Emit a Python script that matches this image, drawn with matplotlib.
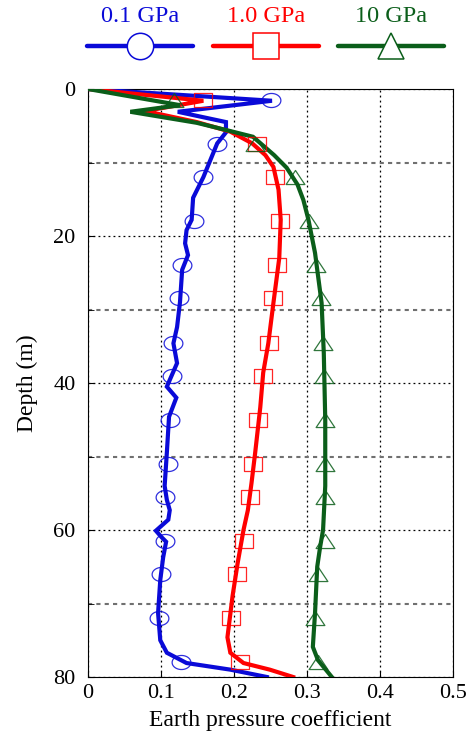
import numpy as np
import matplotlib
matplotlib.use("Agg")
import matplotlib.pyplot as plt
from matplotlib.path import Path
from matplotlib.ticker import MultipleLocator

plt.rcParams['font.family'] = ['Liberation Serif', 'DejaVu Serif']

# series names and colours
labels = ["0.1 GPa", "1.0 GPa", "10 GPa"]
colors = ["#0a0ad8", "#ff0000", "#0b5e1a"]

# line data (depth in m, earth pressure coefficient)
depth_01 = [0, 1.6, 3.1, 4.5, 5.9, 7.4, 12, 14.8, 17.8, 19.2, 21, 22.6, 24.6, 29,
            32.4, 34.6, 37.3, 40.5, 42, 44.6, 49.5, 54, 55.9, 57.3, 58.6, 60.1,
            61, 61.6, 63.7, 66.8, 71.3, 75, 76.7, 78.1, 79, 80]
k_01 = [0, 0.252, 0.123, 0.189, 0.189, 0.177, 0.158, 0.144, 0.142, 0.135, 0.133,
        0.137, 0.129, 0.126, 0.122, 0.117, 0.122, 0.108, 0.121, 0.111, 0.108,
        0.105, 0.108, 0.112, 0.110, 0.093, 0.101, 0.107, 0.103, 0.099, 0.096,
        0.099, 0.108, 0.135, 0.195, 0.245]

depth_1 = [0, 1.6, 3.0, 4.5, 5.8, 7.4, 9, 10.6, 13.7, 17.8, 23, 29.1, 34.6, 38.6,
           43.3, 49.5, 53.6, 57.3, 60, 64.5, 69, 74.6, 76.7, 78.1, 79, 80]
k_1 = [0, 0.158, 0.078, 0.149, 0.195, 0.225, 0.243, 0.254, 0.261, 0.264, 0.262,
       0.254, 0.247, 0.240, 0.236, 0.229, 0.224, 0.219, 0.213, 0.205, 0.198,
       0.191, 0.195, 0.213, 0.249, 0.281]

depth_10 = [0, 2.2, 3.1, 4.6, 5.6, 6.5, 9, 10.7, 13, 15.1, 17.8, 22.3, 29.1, 35.9,
            45, 54, 60, 62.3, 65, 71.3, 75.9, 77.7, 80]
k_10 = [0, 0.126, 0.058, 0.149, 0.190, 0.226, 0.255, 0.272, 0.287, 0.295, 0.302,
        0.311, 0.320, 0.323, 0.325, 0.325, 0.322, 0.318, 0.314, 0.311, 0.308,
        0.315, 0.334]

# marker data
depth_mk = [1.5, 7.5, 12, 18, 24, 28.5, 34.5, 39, 45, 51, 55.5, 61.5, 66, 72, 78]
k_01_mk = [0.251, 0.177, 0.158, 0.145, 0.129, 0.125, 0.117, 0.115, 0.113, 0.110,
           0.105, 0.105, 0.100, 0.097, 0.127]
k_1_mk = [0.158, 0.231, 0.256, 0.263, 0.259, 0.254, 0.248, 0.240, 0.233, 0.226,
          0.222, 0.214, 0.204, 0.196, 0.208]
k_10_mk = [0.118, 0.229, 0.284, 0.303, 0.313, 0.319, 0.322, 0.323, 0.325, 0.325,
           0.325, 0.324, 0.315, 0.311, 0.315]

# squashed markers (figure was stretched in the original)
asp = 0.75
t = np.linspace(0, 2*np.pi, 60)
ellipse = Path(np.column_stack([np.cos(t), asp*np.sin(t)]), closed=True)
rect = Path([(-1, -asp), (1, -asp), (1, asp), (-1, asp), (-1, -asp)], closed=True)
tri = Path([(0, asp), (1, -asp), (-1, -asp), (0, asp)], closed=True)

fig = plt.figure(figsize=(4.72, 7.35), dpi=100)
ax = fig.add_axes([88/472, 58/735, 365/472, 588/735])

lines = [(depth_01, k_01), (depth_1, k_1), (depth_10, k_10)]
marks = [k_01_mk, k_1_mk, k_10_mk]
shapes = [ellipse, rect, tri]

for (d, k), c in zip(lines, colors):
    ax.plot(k, d, color=c, lw=3, solid_joinstyle='miter', zorder=3)
for km, c, s in zip(marks, colors, shapes):
    ax.plot(km, depth_mk, ls='none', marker=s, ms=13.5, mfc='none', mec=c,
            mew=0.9, alpha=0.85, zorder=4)

ax.set_xlim(0, 0.5)
ax.set_ylim(80, 0)
ax.xaxis.set_major_locator(MultipleLocator(0.1))
ax.yaxis.set_major_locator(MultipleLocator(20))
ax.yaxis.set_minor_locator(MultipleLocator(10))
ax.set_xticks([0, 0.1, 0.2, 0.3, 0.4, 0.5])
ax.set_xticklabels(["0", "0.1", "0.2", "0.3", "0.4", "0.5"])
ax.grid(True, which='major', color='black', ls=(0, (1.5, 2.5)), lw=0.9)
ax.grid(True, which='minor', axis='y', color='#707070', ls=(0, (2, 2)), lw=1.5)
ax.tick_params(which='both', direction='in', labelsize=16, length=4)
ax.tick_params(axis='y', pad=9)
ax.tick_params(axis='x', pad=5)
ax.set_xlabel("Earth pressure coefficient", fontsize=17, labelpad=5)
ax.set_ylabel("Depth (m)", fontsize=17, labelpad=11)

# legend row across the top, label above each handle
lax = fig.add_axes([0, 665/735, 1, 70/735])
lax.set_xlim(0, 472)
lax.set_ylim(70, 0)
lax.axis('off')
legend_x = [140, 266, 391]
for cx, c, s, lab in zip(legend_x, colors, ['o', 's', '^'], labels):
    lax.plot([cx - 53, cx + 53], [46, 46], color=c, lw=3.2, solid_capstyle='round')
    lax.plot([cx], [46], marker=s, ms=19, mfc='white', mec=c, mew=1.1)
    lax.text(cx, 16, lab, color=c, fontsize=17.5, ha='center', va='center')

fig.savefig("out.png", dpi=100)
